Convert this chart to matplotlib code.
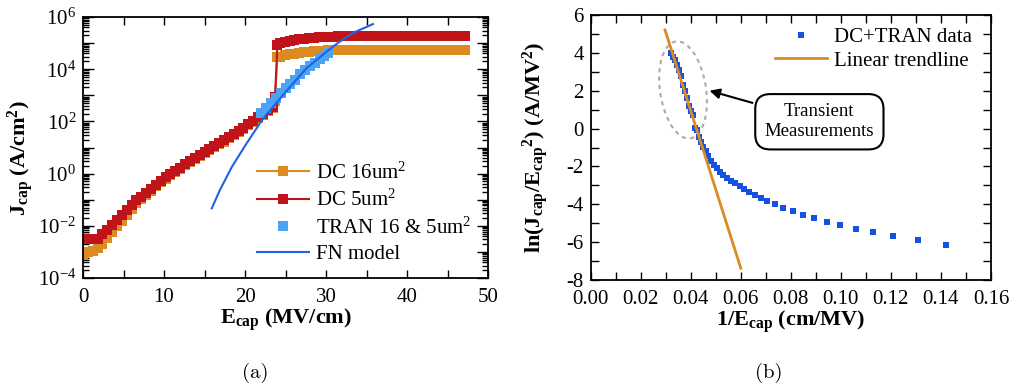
import numpy as np
import matplotlib
matplotlib.use('Agg')
import matplotlib.pyplot as plt
from matplotlib.patches import Ellipse
from matplotlib.ticker import LogLocator, FixedLocator, MultipleLocator, FuncFormatter, NullFormatter
from matplotlib.transforms import Affine2D, ScaledTranslation

plt.rcParams['font.family'] = 'Liberation Serif'
plt.rcParams['mathtext.fontset'] = 'custom'
plt.rcParams['mathtext.rm'] = 'Liberation Serif'
plt.rcParams['mathtext.it'] = 'Liberation Serif:italic'
plt.rcParams['mathtext.bf'] = 'Liberation Serif:bold'
plt.rcParams['axes.unicode_minus'] = False

orange = '#dc8a22'
red = '#c0141a'
tran_blue = '#4ba3f6'
fn_blue = '#1f62e0'
dot_blue = '#1652e0'

# ---- (a) J-E data, log10(J) ----
e_dc = [0.0, 0.6, 1.2, 1.8, 2.4, 3.0, 3.6, 4.2, 4.8, 5.4, 6.0, 6.6, 7.2, 7.8, 8.4, 9.0,
        9.6, 10.2, 10.8, 11.4, 12.0, 12.6, 13.2, 13.8, 14.4, 15.0, 15.6, 16.2, 16.8, 17.4,
        18.0, 18.6, 19.2, 19.8, 20.4, 21.0, 21.6, 22.2, 22.8, 23.4, 23.7, 24.0,
        24.3, 24.9, 25.5, 26.1, 26.7, 27.3, 27.9, 28.5, 29.1, 29.7, 30.3, 30.9, 31.5, 32.1,
        32.7, 33.3, 33.9, 34.5, 35.1, 35.7, 36.3, 36.9, 37.5, 38.1, 38.7, 39.3, 39.9, 40.5,
        41.1, 41.7, 42.3, 42.9, 43.5, 44.1, 44.7, 45.3, 45.9, 46.5, 47.1]
logj_dc5 = [-2.52, -2.52, -2.52, -2.50, -2.33, -2.15, -1.95, -1.76, -1.58, -1.40, -1.20, -1.02,
            -0.88, -0.74, -0.58, -0.42, -0.27, -0.14, -0.03, 0.10, 0.22, 0.36, 0.48, 0.60,
            0.72, 0.83, 0.94, 1.05, 1.16, 1.27, 1.39, 1.51, 1.63, 1.76, 1.90, 2.03, 2.16,
            2.30, 2.44, 2.55, 2.92, 4.93,
            5.00, 5.04, 5.08, 5.11, 5.14, 5.16, 5.18, 5.20, 5.22, 5.23, 5.24, 5.25, 5.26, 5.26,
            5.27, 5.27, 5.27, 5.27, 5.27, 5.27, 5.27, 5.27, 5.27, 5.27, 5.27, 5.27, 5.27, 5.27,
            5.27, 5.27, 5.27, 5.27, 5.27, 5.27, 5.27, 5.27, 5.27, 5.27, 5.27]
logj_dc16 = [-3.10, -3.02, -2.95, -2.86, -2.70, -2.48, -2.25, -2.02, -1.82, -1.60, -1.36, -1.14,
             -0.97, -0.82, -0.65, -0.48, -0.33, -0.19, -0.07, 0.06, 0.18, 0.32, 0.44, 0.56,
             0.68, 0.79, 0.90, 1.01, 1.12, 1.23, 1.35, 1.47, 1.59, 1.72, 1.86, 1.99, 2.12,
             2.26, 2.40, 2.52, 2.80, 4.45,
             4.48, 4.53, 4.57, 4.60, 4.63, 4.65, 4.67, 4.69, 4.70, 4.71, 4.72, 4.73, 4.74, 4.74,
             4.74, 4.74, 4.74, 4.74, 4.74, 4.74, 4.74, 4.74, 4.74, 4.74, 4.74, 4.74, 4.74, 4.74,
             4.74, 4.74, 4.74, 4.74, 4.74, 4.74, 4.74, 4.74, 4.74, 4.74, 4.74]

e_tran = [22.0, 22.6, 23.2, 23.8, 24.4, 25.0, 25.6, 26.2, 26.8, 27.4, 28.0, 28.6, 29.2, 29.8, 30.3]
logj_tran = [2.33, 2.52, 2.72, 2.90, 3.10, 3.27, 3.42, 3.58, 3.80, 3.97, 4.12, 4.25, 4.38, 4.52, 4.62]

e_fn = [15.9, 16.9, 18.4, 20.2, 22.1, 23.5, 25.6, 27.6, 30.1, 31.7, 33.4, 35.8]
logj_fn = [-1.33, -0.63, 0.27, 1.16, 2.05, 2.57, 3.34, 4.04, 4.68, 5.06, 5.40, 5.73]

# ---- (b) FN plot data ----
inv_e = [0.0322, 0.0330, 0.0338, 0.0346, 0.0354, 0.0362, 0.0370, 0.0378, 0.0386, 0.0394,
         0.0402, 0.0410, 0.0418, 0.0426, 0.0434, 0.0442, 0.0450, 0.0460, 0.0470, 0.0480,
         0.0492, 0.0504, 0.0517, 0.0530, 0.0545, 0.0560, 0.0577, 0.0595, 0.0614, 0.0634,
         0.0656, 0.0680, 0.0705, 0.0735, 0.0770, 0.0810, 0.0850, 0.0893, 0.0943, 0.0996,
         0.1060, 0.1130, 0.1210, 0.1310, 0.1420]
ln_je2 = [3.98, 3.80, 3.60, 3.35, 3.10, 2.80, 2.30, 2.00, 1.60, 1.20,
          0.95, 0.70, 0.05, -0.10, -0.45, -0.70, -0.95, -1.20, -1.45, -1.70,
          -1.95, -2.10, -2.30, -2.45, -2.60, -2.75, -2.90, -3.05, -3.20, -3.35,
          -3.50, -3.67, -3.85, -4.00, -4.20, -4.35, -4.57, -4.74, -4.92, -5.09,
          -5.29, -5.48, -5.67, -5.89, -6.15]
trend_x = [0.0297, 0.0600]
trend_y = [5.21, -7.38]

fig = plt.figure(figsize=(10.11, 3.92), dpi=100)
ax1 = fig.add_axes([0.0821, 0.2908, 0.4006, 0.6658])
ax2 = fig.add_axes([0.5843, 0.2857, 0.3959, 0.676])

for ax in (ax1, ax2):
    for s in ax.spines.values():
        s.set_linewidth(1.3)
    ax.tick_params(which='both', direction='in', top=True, right=True, labelsize=15, width=1)
    ax.tick_params(which='major', length=6)
    ax.tick_params(which='minor', length=6)

# (a)
ax1.plot(e_dc, 10**np.array(logj_dc16), color=orange, lw=1.5, marker='s', ms=6.5, mew=0,
         label=r'DC 16um$^2$')
ax1.plot(e_dc, 10**np.array(logj_dc5), color=red, lw=1.5, marker='s', ms=6.5, mew=0,
         label=r'DC 5um$^2$')
ax1.plot(e_tran, 10**np.array(logj_tran), ls='none', color=tran_blue, marker='s', ms=7.5, mew=0,
         label=r'TRAN 16 & 5um$^2$')
ax1.plot(e_fn, 10**np.array(logj_fn), color=fn_blue, lw=1.5, label='FN model')
ax1.set_yscale('log')
ax1.set_xlim(0, 50)
ax1.set_ylim(1e-4, 1e6)
ax1.xaxis.set_major_locator(MultipleLocator(10))
ax1.xaxis.set_minor_locator(MultipleLocator(5))
ax1.yaxis.set_major_locator(FixedLocator([10.0**k for k in range(-4, 7)]))
ax1.yaxis.set_major_formatter(FuncFormatter(
    lambda v, p: r'$10^{%d}$' % round(np.log10(v)) if round(np.log10(v)) % 2 == 0 else ''))
ax1.yaxis.set_minor_locator(LogLocator(base=10, subs=np.arange(2, 10), numticks=30))
ax1.yaxis.set_minor_formatter(NullFormatter())
ax1.tick_params(axis='y', which='major', length=8)
ax1.tick_params(axis='y', which='minor', length=4)
ax1.tick_params(axis='x', pad=7)
ax1.tick_params(axis='y', pad=5)
ax1.set_xlabel(r'$\mathbf{E_{cap}}$ (MV/cm)', fontsize=16, fontweight='bold', labelpad=0)
ax1.set_ylabel(r'$\mathbf{J_{cap}}$ (A/cm$\mathbf{^2}$)', fontsize=16, fontweight='bold')
ax1.yaxis.set_label_coords(-0.115, 0.46)
ax1.legend(loc='lower left', bbox_to_anchor=(0.41, 0.02), frameon=False, fontsize=15,
           numpoints=1, handlelength=2.5, handletextpad=0.3, labelspacing=0.3, borderaxespad=0)

# (b)
ax2.plot(inv_e, ln_je2, ls='none', marker='s', ms=5, mew=0, color=dot_blue, label='DC+TRAN data')
ax2.plot(trend_x, trend_y, color=orange, lw=2, label='Linear trendline')
ax2.set_xlim(0, 0.16)
ax2.set_ylim(-8, 6)
ax2.xaxis.set_major_locator(MultipleLocator(0.02))
ax2.xaxis.set_minor_locator(MultipleLocator(0.01))
ax2.yaxis.set_major_locator(MultipleLocator(2))
ax2.yaxis.set_minor_locator(MultipleLocator(1))
ax2.xaxis.set_major_formatter(FuncFormatter(lambda v, p: '%.2f' % v))
ax2.tick_params(axis='x', pad=7)
ax2.tick_params(axis='y', pad=5)
ax2.set_xlabel(r'1/$\mathbf{E_{cap}}$ (cm/MV)', fontsize=16, fontweight='bold', labelpad=0)
ax2.set_ylabel(r'ln($\mathbf{J_{cap}/E_{cap}{}^{2}}$) (A/MV$\mathbf{^2}$)', fontsize=16,
               fontweight='bold')
ax2.yaxis.set_label_coords(-0.10, 0.5)
ax2.legend(loc='upper left', bbox_to_anchor=(0.44, 0.985), frameon=False, fontsize=15,
           numpoints=1, handlelength=2.5, handletextpad=0.3, labelspacing=0.2, borderaxespad=0)

# dashed ellipse around transient points (size in pixels, tilted a bit)
ell_tr = Affine2D().scale(fig.dpi / 72.0) + ScaledTranslation(0.0369, 2.04, ax2.transData)
ell = Ellipse((0, 0), 46 * 0.72, 98 * 0.72, angle=8.5, fill=False, ec='#aaaaaa', lw=1.5,
              ls=(0, (2, 2)), transform=ell_tr)
ax2.add_patch(ell)

ax2.annotate('Transient\nMeasurements', xy=(0.0464, 2.04), xytext=(0.0914, 0.36),
             textcoords='data', ha='center', va='center', fontsize=13.5, linespacing=1.2,
             bbox=dict(boxstyle='round,pad=0.5,rounding_size=0.8', fc='white', ec='black', lw=1.5),
             arrowprops=dict(arrowstyle='-|>', color='black', lw=1.5, mutation_scale=15))

fig.text(0.252, 0.048, '(a)', family='cmr10', fontsize=15, ha='center', va='center')
fig.text(0.760, 0.048, '(b)', family='cmr10', fontsize=15, ha='center', va='center')

fig.savefig('out.png', dpi=100)
